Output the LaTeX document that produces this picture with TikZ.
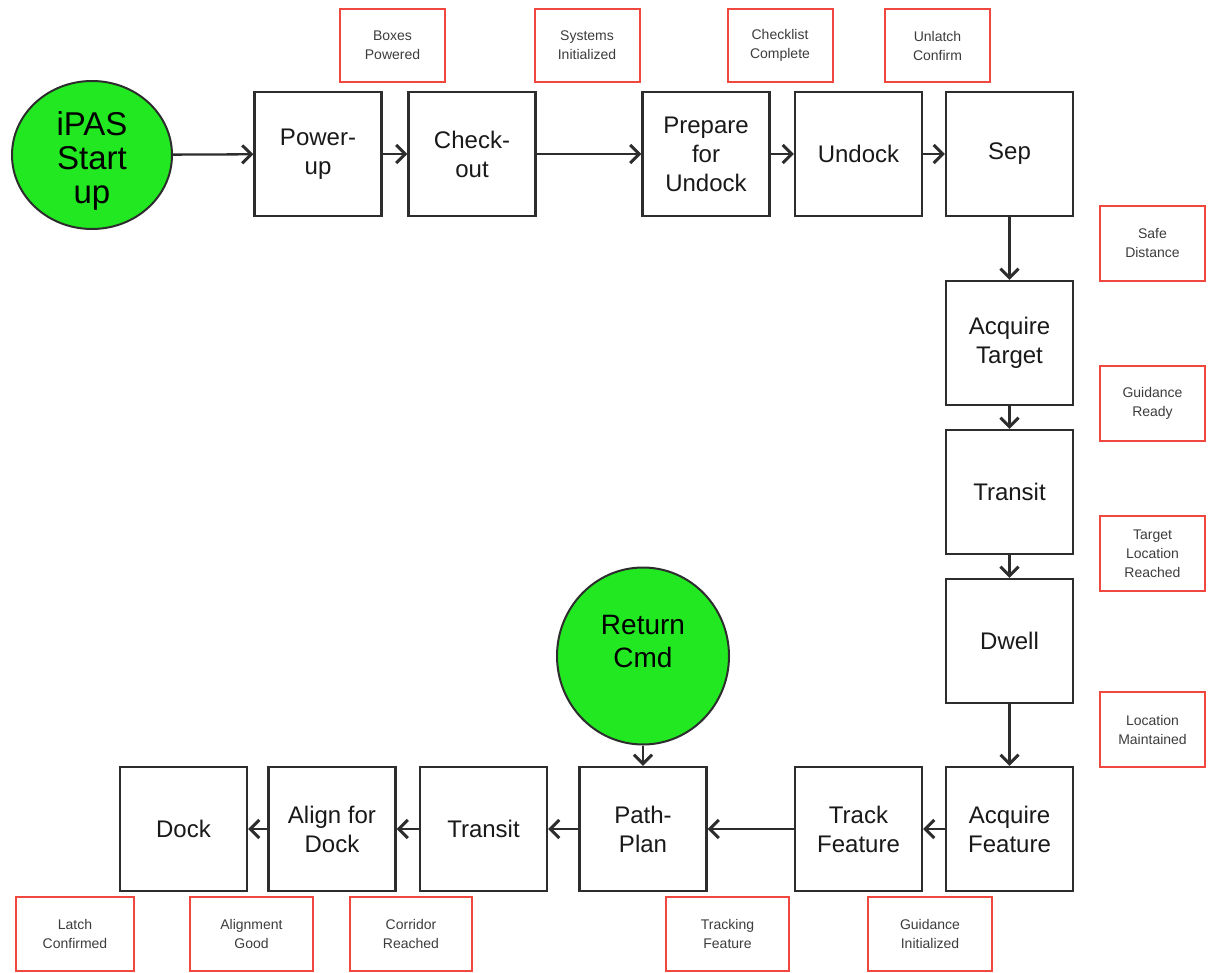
\documentclass[tikz,border=0pt]{standalone}
\usepackage{fontspec}
\setmainfont{Liberation Sans}
\usetikzlibrary{arrows.meta,shapes.geometric}
\definecolor{startgreen}{RGB}{34,232,34}
\definecolor{labelred}{RGB}{240,72,62}
\definecolor{boxline}{RGB}{45,45,45}
\definecolor{labeltext}{RGB}{60,60,60}
\tikzset{
  stepbox/.style={draw=boxline, line width=2.3pt, fill=white, rectangle,
    minimum width=127pt, minimum height=124pt, inner sep=0pt, align=center,
    text=black!90, font=\fontsize{24}{29}\selectfont},
  event/.style={draw=boxline, line width=2pt, fill=startgreen, ellipse,
    inner sep=0pt},
  eventtext/.style={align=center, text=black, inner sep=0pt},
  cond/.style={draw=labelred, line width=2pt, rectangle, inner sep=0pt,
    align=center, text=labeltext, font=\fontsize{14}{19}\selectfont},
  flow/.style={draw=boxline, line width=2.3pt,
    -{Straight Barb[length=9pt,width=18pt,line width=3pt]}},
}
\begin{document}
\begin{tikzpicture}[x=1pt,y=-1pt]
\useasboundingbox (0,0) rectangle (1209,973);

% start and return events
\node[event, minimum width=160pt, minimum height=148pt] (start) at (92,155) {};
\node[eventtext, font=\fontsize{33}{34}\selectfont] (starttext) at (92,161) {iPAS\\Start\\up};
\node[event, minimum width=172pt, minimum height=177pt] (ret) at (643,656) {};
\node[eventtext, font=\fontsize{28}{33}\selectfont] (rettext) at (643,641) {Return\\Cmd};

% outbound sequence
\node[stepbox] (power)   at (318,154)    {Power-\\up};
\node[stepbox] (check)   at (472,154)    {Check-\\out};
\node[stepbox] (prep)    at (706,154)    {Prepare\\for\\Undock};
\node[stepbox] (undock)  at (858.5,154)  {Undock};
\node[stepbox] (sep)     at (1009.5,154) {Sep};
\node[stepbox] (acqtgt)  at (1009.5,343) {Acquire\\Target};
\node[stepbox] (transa)  at (1009.5,492) {Transit};
\node[stepbox] (dwell)   at (1009.5,641) {Dwell};
\node[stepbox] (acqfeat) at (1009.5,829) {Acquire\\Feature};
\node[stepbox] (track)   at (858.5,829)  {Track\\Feature};

% return sequence
\node[stepbox] (path)    at (643,829)    {Path-\\Plan};
\node[stepbox] (transb)  at (483.5,829)  {Transit};
\node[stepbox] (align)   at (332,829)    {Align for\\Dock};
\node[stepbox] (dock)    at (183.5,829)  {Dock};

% transition conditions
\node[cond, minimum width=105pt, minimum height=73pt] (c1) at (392.5,45.5) {Boxes\\Powered};
\node[cond, minimum width=105pt, minimum height=73pt] (c2) at (587,45.5) {Systems\\Initialized};
\node[cond, minimum width=105pt, minimum height=73pt] (c3) at (780,45.5) {Checklist\\Complete};
\node[cond, minimum width=105pt, minimum height=73pt] (c4) at (937.5,45.5) {Unlatch\\Confirm};
\node[cond, minimum width=105pt, minimum height=75pt] (c5) at (1152.5,243.5) {Safe\\Distance};
\node[cond, minimum width=105pt, minimum height=75pt] (c6) at (1152.5,403.5) {Guidance\\Ready};
\node[cond, minimum width=105pt, minimum height=75pt] (c7) at (1152.5,553.5) {Target\\Location\\Reached};
\node[cond, minimum width=105pt, minimum height=75pt] (c8) at (1152.5,729.5) {Location\\Maintained};
\node[cond, minimum width=124pt, minimum height=74pt] (c9)  at (930,934) {Guidance\\Initialized};
\node[cond, minimum width=123pt, minimum height=74pt] (c10) at (727.5,934) {Tracking\\Feature};
\node[cond, minimum width=122pt, minimum height=74pt] (c11) at (411,934) {Corridor\\Reached};
\node[cond, minimum width=123pt, minimum height=74pt] (c12) at (251.5,934) {Alignment\\Good};
\node[cond, minimum width=118pt, minimum height=74pt] (c13) at (75,934) {Latch\\Confirmed};

% transitions
\draw[flow] (start) -- (power);
\draw[flow] (power) -- (check);
\draw[flow] (check) -- (prep);
\draw[flow] (prep) -- (undock);
\draw[flow] (undock) -- (sep);
\draw[flow] (sep) -- (acqtgt);
\draw[flow] (acqtgt) -- (transa);
\draw[flow] (transa) -- (dwell);
\draw[flow] (dwell) -- (acqfeat);
\draw[flow] (acqfeat) -- (track);
\draw[flow] (track) -- (path);
\draw[flow] (ret) -- (path);
\draw[flow] (path) -- (transb);
\draw[flow] (transb) -- (align);
\draw[flow] (align) -- (dock);
\end{tikzpicture}
\end{document}
